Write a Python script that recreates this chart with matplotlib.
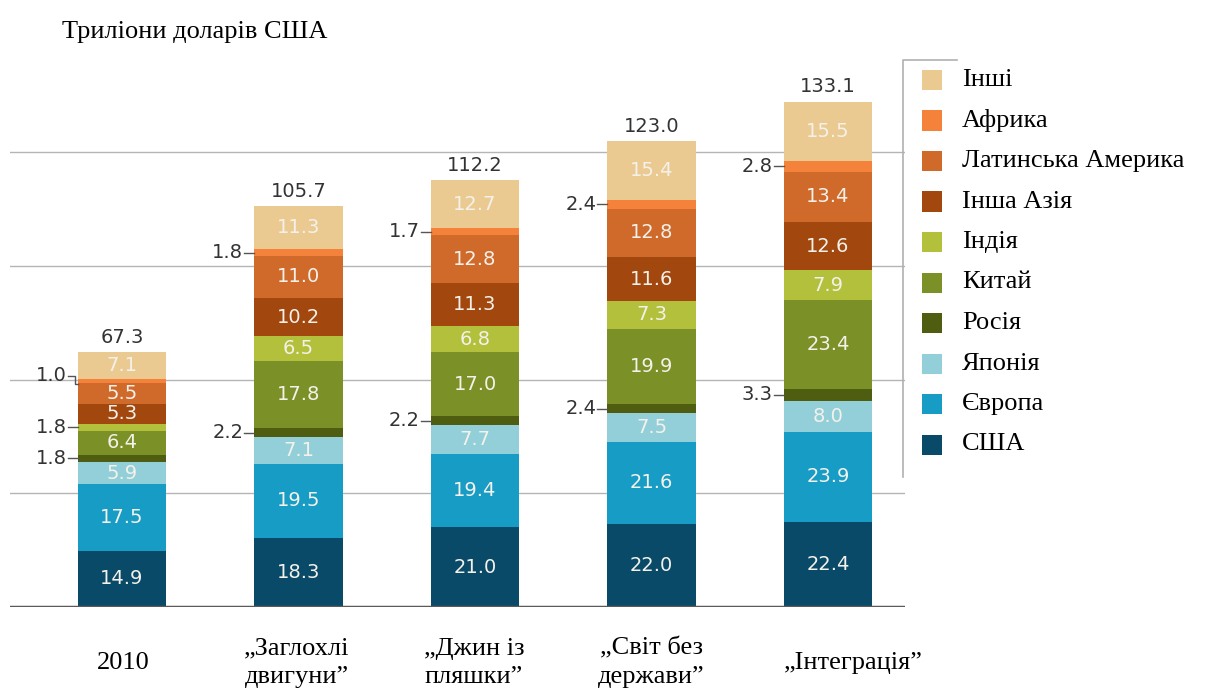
import matplotlib
matplotlib.use("Agg")
import matplotlib.pyplot as plt
from matplotlib.patches import Rectangle
from matplotlib.lines import Line2D
import numpy as np

# Дані
categories = ["2010", "„Заглохлі\nдвигуни”", "„Джин із\nпляшки”",
              "„Світ без\nдержави”", "„Інтеграція”"]
series = ["США", "Європа", "Японія", "Росія", "Китай", "Індія",
          "Інша Азія", "Латинська Америка", "Африка", "Інші"]
colors = ["#0a4a69", "#179cc6", "#92cfd8", "#4e5d10", "#7b9127",
          "#b2c03c", "#a2470e", "#cf6a2b", "#f5823b", "#ebca92"]

usa = [14.9, 18.3, 21.0, 22.0, 22.4]
europe = [17.5, 19.5, 19.4, 21.6, 23.9]
japan = [5.9, 7.1, 7.7, 7.5, 8.0]
russia = [1.8, 2.2, 2.2, 2.4, 3.3]
china = [6.4, 17.8, 17.0, 19.9, 23.4]
india = [1.8, 6.5, 6.8, 7.3, 7.9]
other_asia = [5.3, 10.2, 11.3, 11.6, 12.6]
latam = [5.5, 11.0, 12.8, 12.8, 13.4]
africa = [1.0, 1.8, 1.7, 2.4, 2.8]
others = [7.1, 11.3, 12.7, 15.4, 15.5]
totals = [67.3, 105.7, 112.2, 123.0, 133.1]

values = [usa, europe, japan, russia, china, india, other_asia, latam, africa, others]

W, H = 1217, 695
fig = plt.figure(figsize=(W / 100, H / 100), dpi=100)
fig.set_facecolor("white")

# осі в пікселях: зліва 10, справа 905, база 607
ymax = 150
px_per_unit = 3.79
ax = fig.add_axes([10 / W, (H - 607) / H, 895 / W, ymax * px_per_unit / H])
x = np.arange(len(categories))
bar_w = 0.5
x_px = 176.5  # пікселів на одиницю x
ax.set_xlim(-(122 - 10) / x_px, 4 + (905 - 828) / x_px)
ax.set_ylim(0, ymax)
ax.axis("off")

for g in [30, 60, 90, 120]:
    ax.axhline(g, color="#b5b5b5", lw=1.0, zorder=0)
ax.axhline(0, color="#5a5a5a", lw=2.5, zorder=3)

num_font = dict(family=["DejaVu Sans"])
bottom = np.zeros(len(categories))
for s, (vals, col) in enumerate(zip(values, colors)):
    vals = np.array(vals)
    ax.bar(x, vals, bar_w, bottom=bottom, color=col, linewidth=0, zorder=2)
    for i, v in enumerate(vals):
        yc = bottom[i] + v / 2
        if v >= 4:
            ax.text(x[i], yc, f"{v:.1f}", ha="center", va="center",
                    color="#f4f1ea", fontsize=14, zorder=4, **num_font)
        else:
            left = x[i] - bar_w / 2
            d = 10 / x_px
            if s == 8 and i == 0:
                # дужка для 1.0
                yl = yc + 1.4
                ax.plot([left - d, left - 3 / x_px, left - 3 / x_px, left],
                        [yl, yl, bottom[i] - 0.3, bottom[i] - 0.3],
                        color="#555555", lw=1, zorder=4)
            else:
                yl = yc
                ax.plot([left - d, left], [yl, yl], color="#555555", lw=1, zorder=4)
            ax.text(left - d - 1 / x_px, yl, f"{v:.1f}", ha="right", va="center",
                    color="#333333", fontsize=14, **num_font)
    bottom += vals

for i, t in enumerate(totals):
    ax.text(x[i], bottom[i] + 1.5, f"{t:.1f}", ha="center", va="bottom",
            color="#333333", fontsize=14, **num_font)

serif = ["Liberation Serif", "DejaVu Serif"]
fig.text(62 / W, 1 - 32 / H, "Триліони доларів США", family=serif,
         fontsize=19, ha="left", va="center")

label_x = [123, 297, 474, 651, 853]
for lx, lab in zip(label_x, categories):
    fig.text(lx / W, 1 - 663 / H, lab, family=serif, fontsize=19,
             ha="center", va="center", linespacing=1.4)

# легенда вручну
fig.add_artist(Line2D([903 / W, 903 / W, 957 / W], [1 - 477 / H, 1 - 60 / H, 1 - 60 / H],
                      color="#b0b0b0", lw=1.2))
for k, s in enumerate(range(len(series) - 1, -1, -1)):
    yc = 80 + 40.5 * k
    fig.add_artist(Rectangle((922 / W, 1 - (yc + 10) / H), 20 / W, 20 / H,
                             facecolor=colors[s], edgecolor="none"))
    fig.text(962 / W, 1 - yc / H, series[s], family=serif, fontsize=19,
             ha="left", va="center")

fig.savefig("out.png", dpi=100)
